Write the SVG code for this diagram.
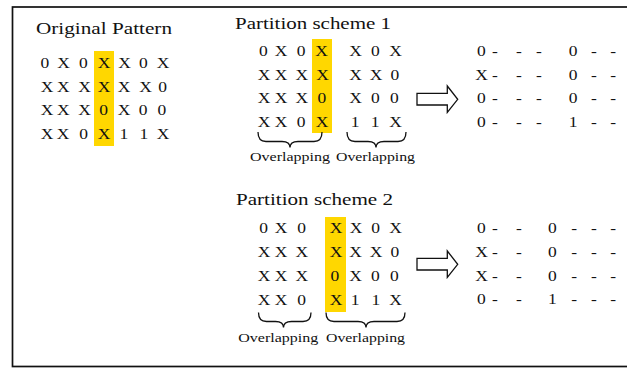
<svg xmlns="http://www.w3.org/2000/svg" width="627" height="368" viewBox="0 0 627 368">
<style>
.t{font-family:"Liberation Serif","Times New Roman",serif;fill:#111;}
.title{font-size:16.5px;}
.g{font-size:14px;text-anchor:middle;}
.lab{font-size:13.5px;}
.hl{fill:#FFD700;}
.brace{fill:none;stroke:#111;stroke-width:1.3;}
.arrow{fill:#fff;stroke:#111;stroke-width:1.3;stroke-linejoin:miter;}
</style>
<rect x="12.5" y="7" width="630" height="359.5" fill="#fff" stroke="#111" stroke-width="1.7"/>

<g id="original-pattern">
<text class="t title" x="36" y="34" textLength="136" lengthAdjust="spacingAndGlyphs">Original Pattern</text>
<rect class="hl" x="94" y="51" width="20" height="95"/>
<g transform="scale(1.25,1)">
<text class="t g" x="36 50.8 66.8 83.2 99.6 114.8 130.4" y="67.7">0X0XX0X</text>
<text class="t g" x="37.6 50.6 67.6 83.2 99.2 116.4 130.2" y="91.7">XXXXXX0</text>
<text class="t g" x="37.6 50.6 67.6 83 99.2 114.6 129.6" y="115">XXX0X00</text>
<text class="t g" x="37.6 50.4 67 83.2 99.2 115.2 130.4" y="139">XX0X11X</text>
</g>
</g>

<g id="partition-scheme-1">
<text class="t title" x="235" y="29.3" textLength="156" lengthAdjust="spacingAndGlyphs">Partition scheme 1</text>
<rect class="hl" x="312" y="39" width="20" height="94"/>
<g transform="scale(1.25,1)">
<text class="t g" x="210.6 224.8 241 257.2 284.4 300.4 316.4" y="56">0X0XX0X</text>
<text class="t g" x="211.2 224.8 241.4 258 284.4 300.8 315.8" y="80">XXXXXX0</text>
<text class="t g" x="211.2 224.8 241.4 257.6 284.4 300.4 315.6" y="103.5">XXX0X00</text>
<text class="t g" x="211.2 224.8 241 257.6 284.2 300.2 316.4" y="127.5">XX0X11X</text>
</g>
<text class="t lab" x="250" y="161" textLength="80" lengthAdjust="spacingAndGlyphs">Overlapping</text>
<text class="t lab" x="336" y="161" textLength="79" lengthAdjust="spacingAndGlyphs">Overlapping</text>
</g>

<g id="result-1">
<g transform="scale(1.25,1)">
<text class="t g" x="385.2 396 415.2 431.2 458.6 475.2 490.6" y="56.5">0---0--</text>
<text class="t g" x="385.2 396 415.2 431.2 458.6 475.2 490.6" y="80">X---0--</text>
<text class="t g" x="385.2 396 415.2 431.2 458.6 475.2 490.6" y="103.5">0---0--</text>
<text class="t g" x="385.2 396 415.2 431.2 458.6 475.2 490.6" y="127.5">0---1--</text>
</g>
</g>

<g id="partition-scheme-2">
<text class="t title" x="236" y="205" textLength="157" lengthAdjust="spacingAndGlyphs">Partition scheme 2</text>
<rect class="hl" x="325" y="217" width="21" height="95"/>
<g transform="scale(1.25,1)">
<text class="t g" x="211 224.8 241.4 268.8 284.8 300.6 316.4" y="233.3">0X0XX0X</text>
<text class="t g" x="211.2 224.8 241.4 268.8 284.4 300.8 315.8" y="257">XXXXXX0</text>
<text class="t g" x="211.2 224.8 241.4 268 284.4 300.4 315.6" y="281">XXX0X00</text>
<text class="t g" x="211.2 224.8 241.4 268.8 284.2 300.8 316.4" y="305">XX0X11X</text>
</g>
<text class="t lab" x="238.3" y="341.7" textLength="80" lengthAdjust="spacingAndGlyphs">Overlapping</text>
<text class="t lab" x="326" y="341.7" textLength="79" lengthAdjust="spacingAndGlyphs">Overlapping</text>
</g>

<g id="result-2">
<g transform="scale(1.25,1)">
<text class="t g" x="385.2 396 415.2 442 459.4 475.2 490.6" y="233.3">0--0---</text>
<text class="t g" x="385.2 396 415.2 442 459.4 475.2 490.6" y="257.3">X--0---</text>
<text class="t g" x="385.2 396 415.2 442 459.4 475.2 490.6" y="281">X--0---</text>
<text class="t g" x="385.2 396 415.2 442 459.4 475.2 490.6" y="304.5">0--1---</text>
</g>
</g>

<g id="connectors">
<path class="arrow" d="M417,93.3 H447.3 V86 L457.7,99.3 L447.3,112.3 V105 H417 Z"/>
<path class="arrow" d="M417,258.3 H447.3 V251 L457.7,264.3 L447.3,277.3 V270 H417 Z"/>
<path class="brace" d="M258,132 Q258,141.5 266,141.5 L282,141.5 Q290,141.5 290,147.5 Q290,141.5 298,141.5 L314,141.5 Q322,141.5 322,132"/>
<path class="brace" d="M347,132 Q347,141.5 355,141.5 L368,141.5 Q376,141.5 376,147.5 Q376,141.5 384,141.5 L398,141.5 Q406,141.5 406,132"/>
<path class="brace" d="M258.5,312.5 Q258.5,321.5 266.5,321.5 L275.5,321.5 Q283.5,321.5 283.5,327.5 Q283.5,321.5 291.5,321.5 L303,321.5 Q311,321.5 311,312.5"/>
<path class="brace" d="M326,312.5 Q326,321.5 334,321.5 L358,321.5 Q366,321.5 366,327.5 Q366,321.5 374,321.5 L397,321.5 Q405,321.5 405,312.5"/>
</g>
</svg>
